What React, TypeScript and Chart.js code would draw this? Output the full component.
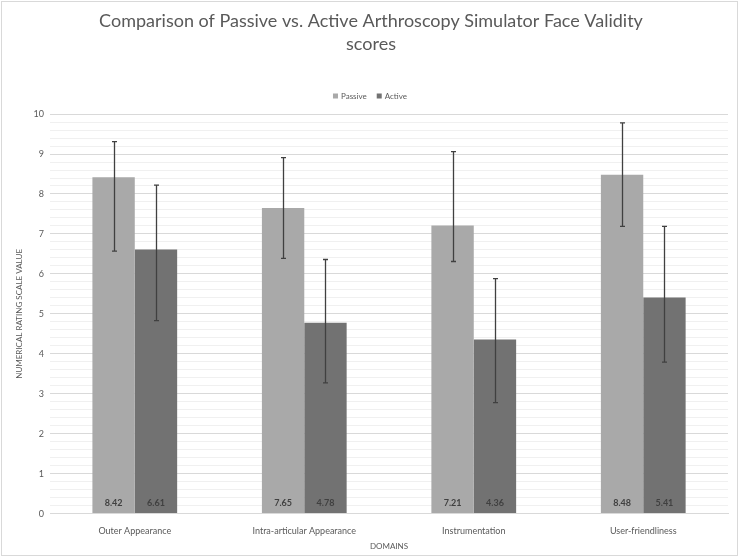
import React, { useEffect, useRef } from "react";
import { Chart, registerables } from "chart.js";

Chart.register(...registerables);

const categories = ["Outer Appearance", "Intra-articular Appearance", "Instrumentation", "User-friendliness"];
const seriesNames = ["Passive", "Active"];
const passiveValues = [8.42, 7.65, 7.21, 8.48];
const activeValues = [6.61, 4.78, 4.36, 5.41];
const passiveUpper = [9.31, 8.91, 9.06, 9.78];
const passiveLower = [6.57, 6.39, 6.31, 7.19];
const activeUpper = [8.22, 6.36, 5.88, 7.19];
const activeLower = [4.83, 3.27, 2.78, 3.79];
const yMin = 0;
const yMax = 10;
const yStep = 0.2;

const FONT = "Lato, 'Open Sans', sans-serif";
const TEXT = "#595959";

const errorBounds = [
  { upper: passiveUpper, lower: passiveLower },
  { upper: activeUpper, lower: activeLower },
];

const framePlugin = {
  id: "frame",
  beforeDraw(chart: any) {
    const ctx = chart.ctx;
    ctx.save();
    ctx.fillStyle = "#ffffff";
    ctx.fillRect(0, 0, chart.width, chart.height);
    ctx.strokeStyle = "#d9d9d9";
    ctx.lineWidth = 1;
    ctx.strokeRect(1.5, 1.5, chart.width - 4, chart.height - 4);
    ctx.restore();
  },
};

const legendPlugin = {
  id: "customLegend",
  afterDraw(chart: any) {
    const ctx = chart.ctx;
    ctx.save();
    ctx.font = `8px ${FONT}`;
    ctx.textBaseline = "middle";
    ctx.textAlign = "left";
    const box = 5;
    const gapBox = 3;
    const gapItem = 10;
    const items = chart.data.datasets.map((ds: any) => ({
      label: ds.label,
      color: ds.backgroundColor,
      w: box + gapBox + ctx.measureText(ds.label).width,
    }));
    const total = items.reduce((s: number, it: any) => s + it.w, 0) + gapItem * (items.length - 1);
    let x = chart.width / 2 - total / 2;
    const y = 96;
    items.forEach((it: any) => {
      ctx.fillStyle = it.color;
      ctx.fillRect(x, y - box / 2, box, box);
      ctx.fillStyle = TEXT;
      ctx.fillText(it.label, x + box + gapBox, y);
      x += it.w + gapItem;
    });
    ctx.restore();
  },
};

const errorBarPlugin = {
  id: "errorBars",
  afterDatasetsDraw(chart: any) {
    const ctx = chart.ctx;
    const yScale = chart.scales.y;
    ctx.save();
    ctx.strokeStyle = "#404040";
    ctx.lineWidth = 1.3;
    chart.data.datasets.forEach((_ds: any, di: number) => {
      const meta = chart.getDatasetMeta(di);
      const b = errorBounds[di];
      meta.data.forEach((bar: any, i: number) => {
        const x = Math.round(bar.x) + 0.5;
        const yt = yScale.getPixelForValue(b.upper[i]);
        const yb = yScale.getPixelForValue(b.lower[i]);
        ctx.beginPath();
        ctx.moveTo(x, yt);
        ctx.lineTo(x, yb);
        ctx.moveTo(x - 2.5, yt);
        ctx.lineTo(x + 2.5, yt);
        ctx.moveTo(x - 2.5, yb);
        ctx.lineTo(x + 2.5, yb);
        ctx.stroke();
      });
    });
    ctx.restore();
  },
};

const dataLabelPlugin = {
  id: "dataLabels",
  afterDatasetsDraw(chart: any) {
    const ctx = chart.ctx;
    const yScale = chart.scales.y;
    const base = yScale.getPixelForValue(0);
    ctx.save();
    ctx.font = `bold 9px ${FONT}`;
    ctx.fillStyle = "#404040";
    ctx.textAlign = "center";
    ctx.textBaseline = "middle";
    chart.data.datasets.forEach((ds: any, di: number) => {
      const meta = chart.getDatasetMeta(di);
      meta.data.forEach((bar: any, i: number) => {
        ctx.fillText(ds.data[i].toFixed(2), bar.x, base - 11);
      });
    });
    ctx.restore();
  },
};

export default function App() {
  const ref = useRef<HTMLCanvasElement | null>(null);

  useEffect(() => {
    if (!ref.current) return;
    const chart = new Chart(ref.current, {
      type: "bar",
      data: {
        labels: categories,
        datasets: [
          { label: seriesNames[0], data: passiveValues, backgroundColor: "#a9a9a9", categoryPercentage: 0.5, barPercentage: 1 },
          { label: seriesNames[1], data: activeValues, backgroundColor: "#727272", categoryPercentage: 0.5, barPercentage: 1 },
        ],
      },
      options: {
        animation: false,
        responsive: true,
        maintainAspectRatio: false,
        layout: { padding: { left: 14, right: 12, top: 0, bottom: 7 } },
        plugins: {
          tooltip: { enabled: false },
          legend: { display: false },
          title: {
            display: true,
            text: ["Comparison of Passive vs. Active Arthroscopy Simulator Face Validity", "scores"],
            color: TEXT,
            font: { family: FONT, size: 18, weight: "normal", lineHeight: 1.28 },
            padding: { top: 10, bottom: 58 },
          },
        },
        scales: {
          x: {
            grid: { display: false },
            border: { display: true, color: "#d9d9d9" },
            ticks: { color: TEXT, font: { family: FONT, size: 9 }, padding: 4 },
            title: { display: true, text: "DOMAINS", color: TEXT, font: { family: FONT, size: 8 }, padding: { top: 1, bottom: 0 } },
          },
          y: {
            min: yMin,
            max: yMax,
            grid: {
              color: (c: any) => (Math.abs(c.tick.value - Math.round(c.tick.value)) < 1e-6 ? "#d9d9d9" : "#f0f0f0"),
              drawTicks: false,
            },
            border: { display: false },
            ticks: {
              stepSize: yStep,
              autoSkip: false,
              color: TEXT,
              font: { family: FONT, size: 9 },
              padding: 6,
              callback: (v: any) => (Math.abs(v - Math.round(v)) < 1e-6 ? String(Math.round(v)) : ""),
            },
            title: { display: true, text: "NUMERICAL RATING SCALE VALUE", color: TEXT, font: { family: FONT, size: 8 }, padding: { top: 1, bottom: 3 } },
          },
        },
      },
      plugins: [framePlugin, errorBarPlugin, dataLabelPlugin, legendPlugin],
    });
    return () => chart.destroy();
  }, []);

  return (
    <div style={{ position: "absolute", left: 0, top: 0, width: 740, height: 558 }}>
      <canvas ref={ref} />
    </div>
  );
}
